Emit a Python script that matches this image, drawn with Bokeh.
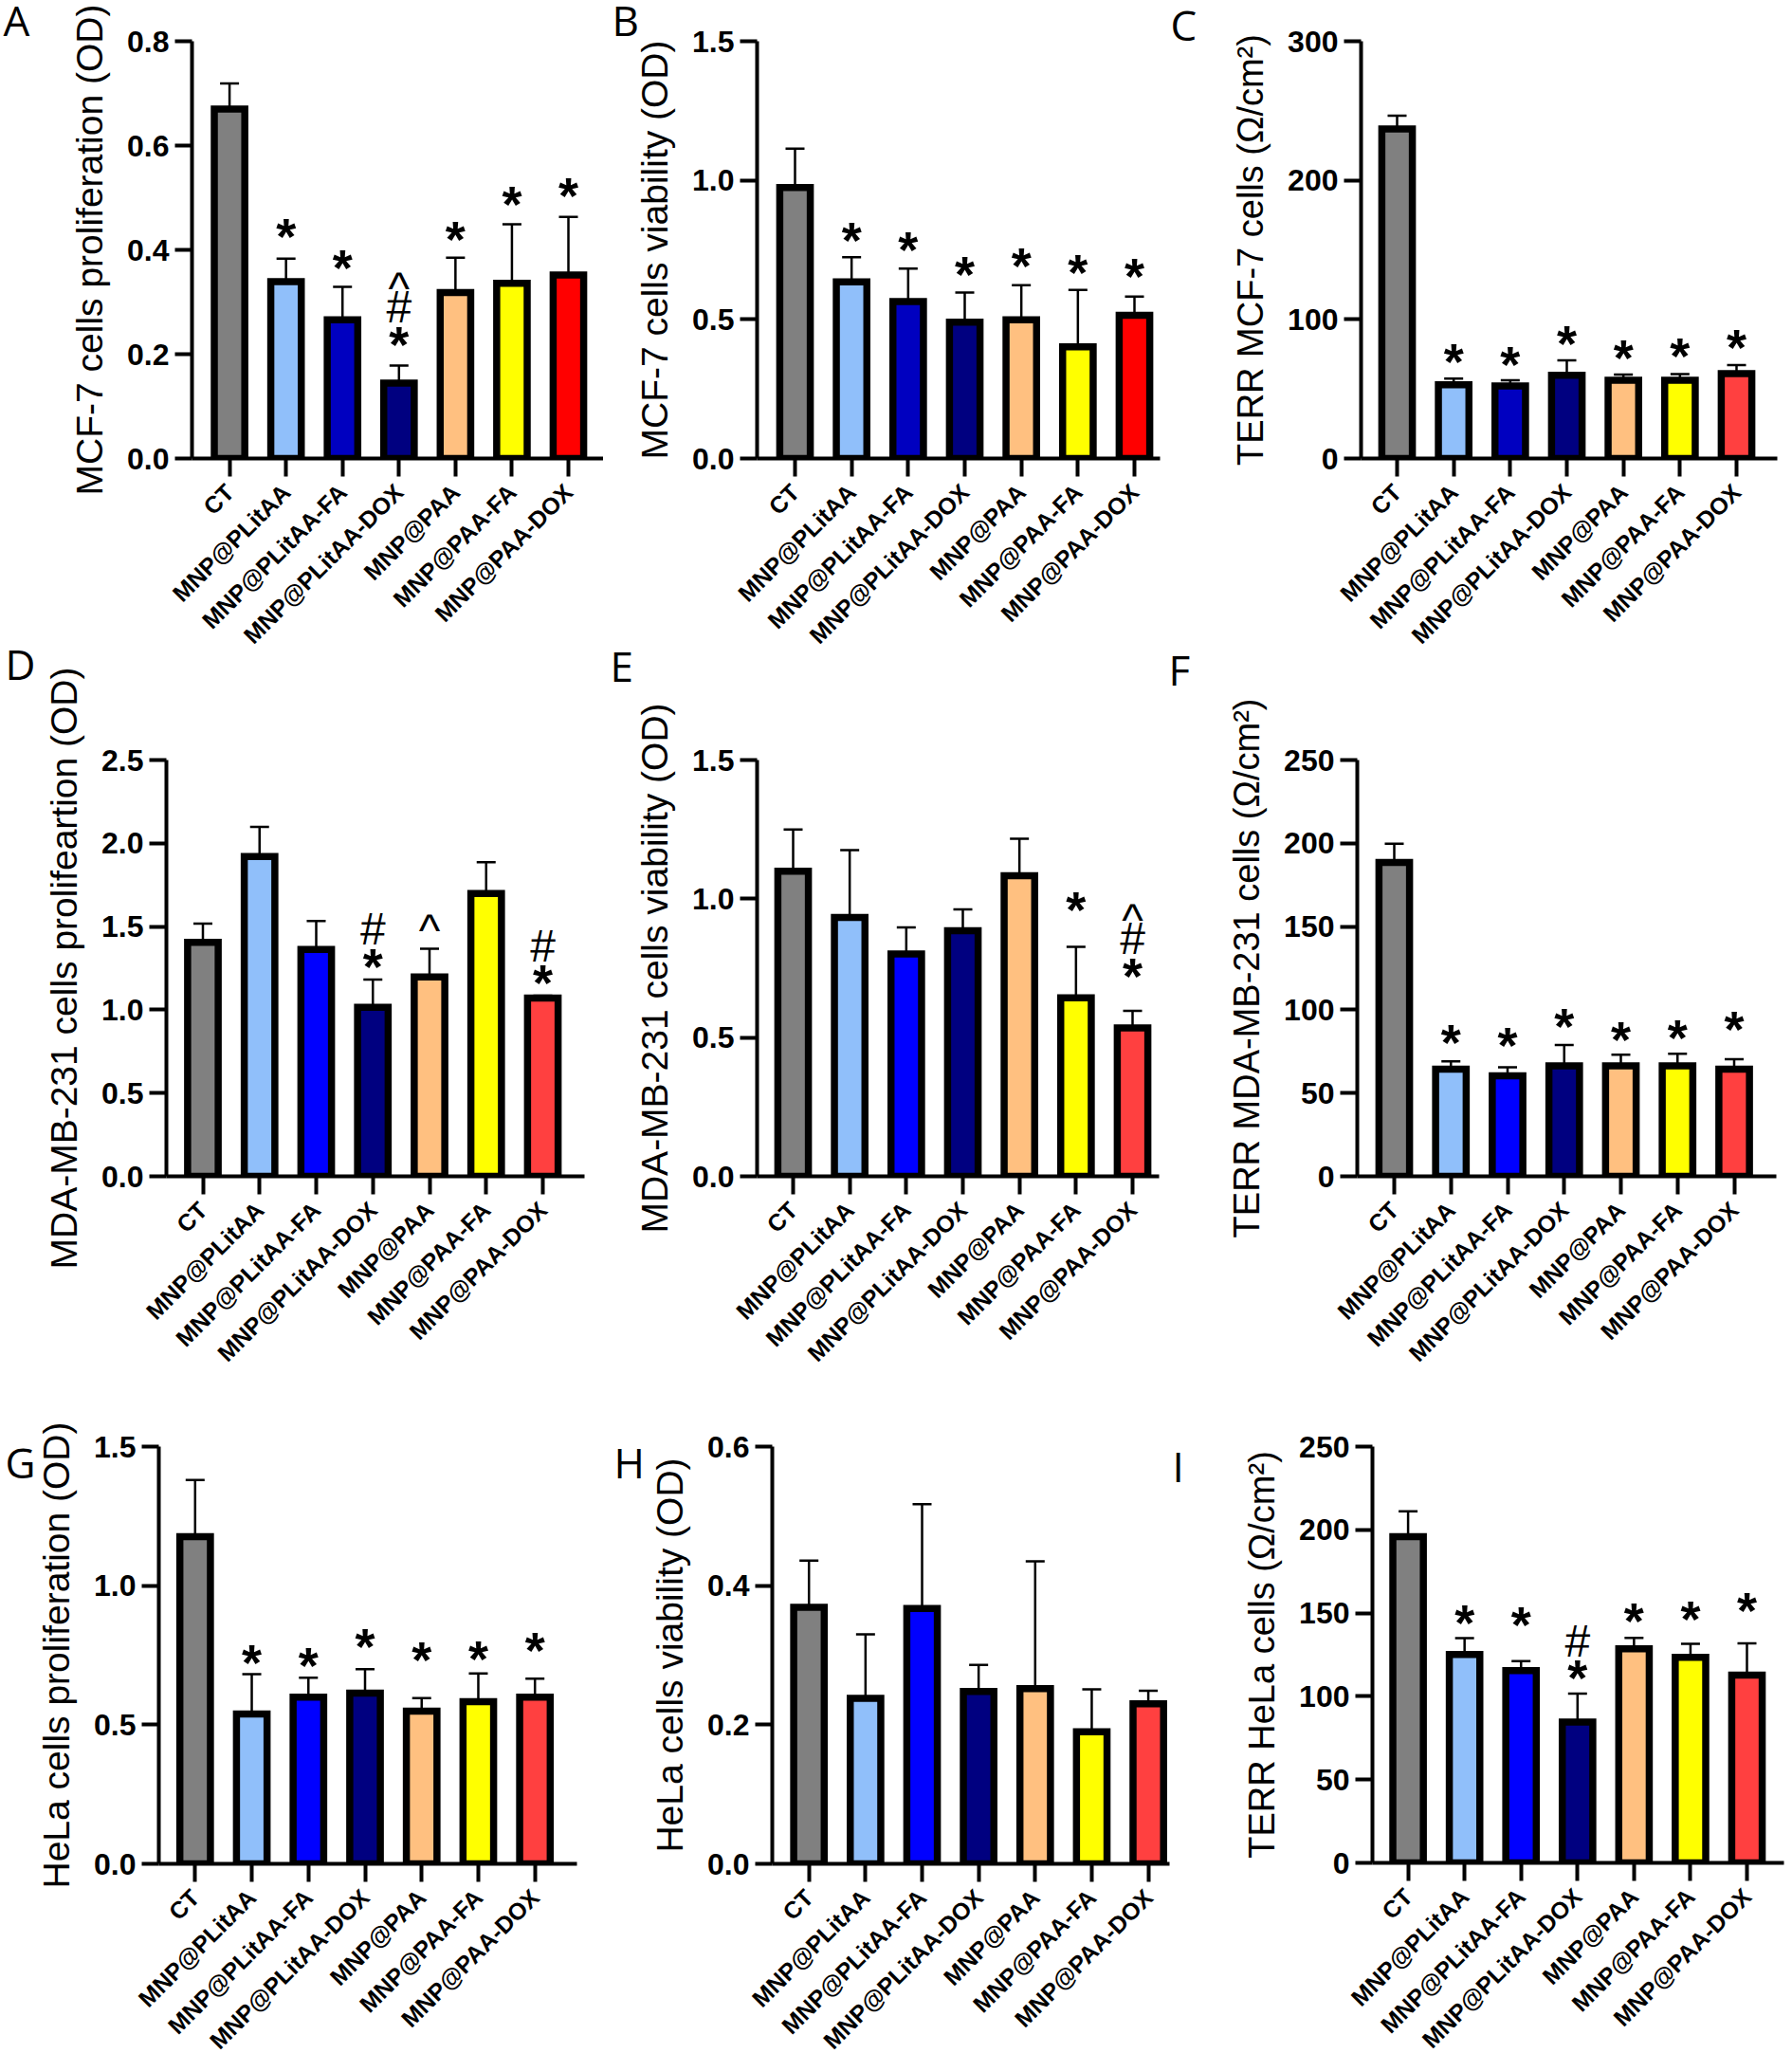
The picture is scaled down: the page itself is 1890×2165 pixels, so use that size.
from bokeh.plotting import figure
from bokeh.layouts import row, column
from bokeh.models import ColumnDataSource, Range1d, FixedTicker, Whisker, TeeHead, Label
from bokeh.core.properties import value
from bokeh.embed import file_html
from bokeh.resources import INLINE
from math import pi

categories = ["CT", "MNP@PLitAA", "MNP@PLitAA-FA", "MNP@PLitAA-DOX", "MNP@PAA", "MNP@PAA-FA", "MNP@PAA-DOX"]

A_vals = [0.670, 0.339, 0.266, 0.1445, 0.318, 0.336, 0.352]
A_errs = [0.719, 0.383, 0.329, 0.178, 0.385, 0.449, 0.463]
A_marks = ["", "*", "*", "*#^", "*", "*", "*"]
A_mark_y = [0, 0.433, 0.374, 0.227, 0.429, 0.496, 0.512]

B_vals = [0.974, 0.635, 0.564, 0.490, 0.499, 0.401, 0.515]
B_errs = [1.114, 0.724, 0.683, 0.597, 0.623, 0.606, 0.582]
B_marks = ["", "*", "*", "*", "*", "*", "*"]
B_mark_y = [0, 0.801, 0.767, 0.678, 0.708, 0.683, 0.671]

C_vals = [236.9, 53.0, 52.1, 59.8, 56.3, 56.3, 61.0]
C_errs = [246.4, 57.5, 56.3, 70.5, 60.4, 60.7, 67.2]
C_marks = ["", "*", "*", "*", "*", "*", "*"]
C_mark_y = [0, 72.6, 70.5, 85.3, 75.5, 76.4, 82.9]

D_vals = [1.405, 1.921, 1.362, 1.015, 1.198, 1.698, 1.071]
D_errs = [1.518, 2.099, 1.534, 1.181, 1.367, 1.886, 1.085]
D_marks = ["", "", "", "*#", "^", "", "*#"]
D_mark_y = [0, 0, 0, 1.286, 1.523, 0, 1.187]

E_vals = [1.099, 0.933, 0.801, 0.885, 1.083, 0.643, 0.535]
E_errs = [1.250, 1.175, 0.897, 0.962, 1.216, 0.827, 0.596]
E_marks = ["", "", "", "", "", "*", "*#^"]
E_mark_y = [0, 0, 0, 0, 0, 0.976, 0.738]

F_vals = [188.5, 64.4, 60.4, 66.3, 66.3, 66.3, 64.4]
F_errs = [199.8, 69.0, 65.5, 78.9, 73.0, 73.6, 70.4]
F_marks = ["", "*", "*", "*", "*", "*", "*"]
F_mark_y = [0, 83.0, 81.1, 92.4, 84.3, 85.7, 91.0]

G_vals = [1.176, 0.539, 0.599, 0.614, 0.549, 0.583, 0.599]
G_errs = [1.380, 0.682, 0.669, 0.700, 0.596, 0.684, 0.666]
G_marks = ["", "*", "*", "*", "*", "*", "*"]
G_mark_y = [0, 0.737, 0.727, 0.797, 0.748, 0.753, 0.784]

H_vals = [0.369, 0.238, 0.367, 0.248, 0.252, 0.190, 0.230]
H_errs = [0.436, 0.330, 0.517, 0.286, 0.435, 0.251, 0.249]
H_marks = ["", "", "", "", "", "", ""]
H_mark_y = [0, 0, 0, 0, 0, 0, 0]

I_vals = [195.9, 125.1, 115.4, 84.6, 128.6, 123.5, 112.7]
I_errs = [211.1, 134.9, 121.1, 101.6, 135.1, 131.6, 131.9]
I_marks = ["", "*", "*", "*#", "*", "*", "*"]
I_mark_y = [0, 146.8, 145.4, 113.5, 147.8, 149.2, 154.1]

GRAY, LBLUE, DBLUE, BLUE, NAVY, PEACH, YELLOW, RED, SOFTRED = (
    "#808080", "#90BFFA", "#0000C0", "#0000FF", "#000080", "#FFC080", "#FFFF00", "#FF0000", "#FF4040")
colors_ab = [GRAY, LBLUE, DBLUE, NAVY, PEACH, YELLOW, RED]
colors_c = [GRAY, LBLUE, DBLUE, NAVY, PEACH, YELLOW, SOFTRED]
colors_rest = [GRAY, LBLUE, BLUE, NAVY, PEACH, YELLOW, SOFTRED]

SANS = "Liberation Sans"
STAR, REG = 54, 48
GLYPH_DROP = {"*": 4, "#": -4, "^": 8}
STACK_GAP = 31
LETTER_LIFT = 17


def panel(letter, letter_xy, ylabel, ymax, yticks, ytick_labels, vals, errs, marks, mark_y, colors,
          box, axis_x, c0, c6, right, top, zero, label_px=39):
    left_b, top_b, right_b, bottom_b = box
    s = (c6 - c0) / 6
    p = figure(width=right_b - left_b, height=bottom_b - top_b, output_backend="svg", toolbar_location=None,
               frame_width=right - axis_x, frame_height=zero - top,
               x_range=Range1d(-(c0 - axis_x) / s, (right - c0) / s), y_range=Range1d(0, ymax),
               min_border_left=axis_x - left_b, min_border_right=right_b - right,
               min_border_top=top - top_b, min_border_bottom=bottom_b - zero)
    p.outline_line_color = None
    p.background_fill_color = "white"
    p.border_fill_color = None
    p.grid.visible = False
    xs = list(range(7))
    src = ColumnDataSource(dict(x=xs, v=vals, e=errs, c=colors))
    p.add_layout(Whisker(source=src, base="x", lower="v", upper="e", dimension="height", level="underlay",
                         line_color="black", line_width=2.5, lower_head=None,
                         upper_head=TeeHead(size=20, line_color="black", line_width=2.5)))
    p.vbar(x="x", top="v", bottom=0, width=0.54, source=src, fill_color="c", line_color="black", line_width=7.5,
           line_join="miter")

    tx, ty, tt, to = [], [], [], []
    for i, m in enumerate(marks):
        for k, ch in enumerate(m):
            tx.append(i); ty.append(mark_y[i]); tt.append(ch)
            to.append(GLYPH_DROP[ch] - STACK_GAP * k)
    star = [j for j, c in enumerate(tt) if c == "*"]
    other = [j for j, c in enumerate(tt) if c != "*"]
    if star:
        p.text([tx[j] for j in star], [ty[j] for j in star], [tt[j] for j in star],
               y_offset=[to[j] for j in star], text_font=value(SANS), text_font_style="bold",
               text_font_size=f"{STAR}px", text_align="center", text_baseline="alphabetic", text_color="black")
    if other:
        p.text([tx[j] for j in other], [ty[j] for j in other], [tt[j] for j in other],
               y_offset=[to[j] for j in other], text_font=value(SANS),
               text_font_size=f"{REG}px", text_align="center", text_baseline="alphabetic", text_color="black")

    ax = p.xaxis[0]
    ax.ticker = FixedTicker(ticks=xs)
    ax.major_label_overrides = {i: c for i, c in enumerate(categories)}
    ax.major_label_orientation = pi / 4
    ax.major_label_text_font = SANS
    ax.major_label_text_font_style = "bold"
    ax.major_label_text_font_size = "25px"
    ax.major_label_text_color = "black"
    ax.major_label_standoff = 12
    ax.major_tick_in = 0
    ax.major_tick_out = 19
    ax.major_tick_line_width = 4
    ax.minor_tick_line_color = None
    ax.axis_line_width = 4

    ay = p.yaxis[0]
    ay.ticker = FixedTicker(ticks=yticks)
    ay.major_label_overrides = {t: l for t, l in zip(yticks, ytick_labels)}
    ay.major_label_text_font = SANS
    ay.major_label_text_font_style = "bold"
    ay.major_label_text_font_size = "32px"
    ay.major_label_text_color = "black"
    ay.major_label_standoff = 6
    ay.major_tick_in = 0
    ay.major_tick_out = 18
    ay.major_tick_line_width = 4
    ay.minor_tick_line_color = None
    ay.axis_line_width = 4
    ay.axis_label = ylabel
    ay.axis_label_text_font = SANS
    ay.axis_label_text_font_style = "normal"
    ay.axis_label_text_font_size = f"{label_px}px"
    ay.axis_label_text_color = "black"
    ay.axis_label_standoff = 15

    p.add_layout(Label(x=letter_xy[0] - left_b, y=letter_xy[1] - top_b - LETTER_LIFT, x_units="canvas", y_units="canvas",
                       text=letter, text_font="Open Sans", text_font_size="44px", text_color="black",
                       text_align="left", text_baseline="alphabetic"), "left")
    return p


R1, R2, R3, R4 = 0, 666, 1440, 2165
t_08 = [0, 0.2, 0.4, 0.6, 0.8]
t_15 = [0, 0.5, 1.0, 1.5]
t_25 = [0, 0.5, 1.0, 1.5, 2.0, 2.5]
t_06 = [0, 0.2, 0.4, 0.6]
t_300 = [0, 100, 200, 300]
t_250 = [0, 50, 100, 150, 200, 250]


def lab(ts):
    return [f"{t:.1f}" for t in ts]


def labi(ts):
    return [str(t) for t in ts]


pA = panel("A", (3, 37), "MCF-7 cells proliferation (OD)", 0.8, t_08, lab(t_08), A_vals, A_errs, A_marks, A_mark_y,
           colors_ab, (0, R1, 636, R2), 202, 241.6, 599, 636, 43, 483)
pB = panel("B", (645, 37), "MCF-7 cells viability (OD)", 1.5, t_15, lab(t_15), B_vals, B_errs, B_marks, B_mark_y,
           colors_ab, (636, R1, 1226, R2), 798, 838, 1196, 1223, 43, 483)
pC = panel("C", (1234, 42), "TERR MCF-7 cells (Ω/cm²)", 300, t_300, labi(t_300), C_vals, C_errs, C_marks, C_mark_y,
           colors_c, (1226, R1, 1882, R2), 1435, 1473, 1831, 1874, 43, 483, label_px=38)

pD = panel("D", (5, 718), "MDA-MB-231 cells prolifeartion (OD)", 2.5, t_25, lab(t_25), D_vals, D_errs, D_marks, D_mark_y,
           colors_rest, (0, R2, 620, R3), 175, 213.5, 572, 616, 801, 1240)
pE = panel("E", (643, 720), "MDA-MB-231 cells viability (OD)", 1.5, t_15, lab(t_15), E_vals, E_errs, E_marks, E_mark_y,
           colors_rest, (620, R2, 1226, R3), 798, 836, 1194, 1222, 803, 1242)
pF = panel("F", (1232, 724), "TERR MDA-MB-231 cells (Ω/cm²)", 250, t_250, labi(t_250), F_vals, F_errs, F_marks, F_mark_y,
           colors_rest, (1226, R2, 1882, R3), 1431, 1470, 1828.5, 1873, 802, 1241, label_px=38)

pG = panel("G", (5, 1560), "HeLa cells proliferation (OD)", 1.5, t_15, lab(t_15), G_vals, G_errs, G_marks, G_mark_y,
           colors_rest, (0, R3, 612, R4), 167, 205.3, 563.7, 608, 1527, 1967)
pH = panel("H", (647, 1560), "HeLa cells viability (OD)", 0.6, t_06, lab(t_06), H_vals, H_errs, H_marks, H_mark_y,
           colors_rest, (612, R3, 1234, R4), 814, 852.7, 1210.6, 1233, 1526, 1966)
pI = panel("I", (1236, 1564), "TERR HeLa cells (Ω/cm²)", 250, t_250, labi(t_250), I_vals, I_errs, I_marks, I_mark_y,
           colors_rest, (1234, R3, 1882, R4), 1447, 1484.6, 1842, 1881, 1527, 1966, label_px=38)

layout = column(row(pA, pB, pC, spacing=0),
                row(pD, pE, pF, spacing=0, margin=(-32, 0, 0, 0)),
                row(pG, pH, pI, spacing=0, margin=(-15, 0, 0, 0)),
                spacing=0, height=2165, styles={"overflow": "hidden"})
open("out.html", "w").write(file_html(layout, INLINE))
